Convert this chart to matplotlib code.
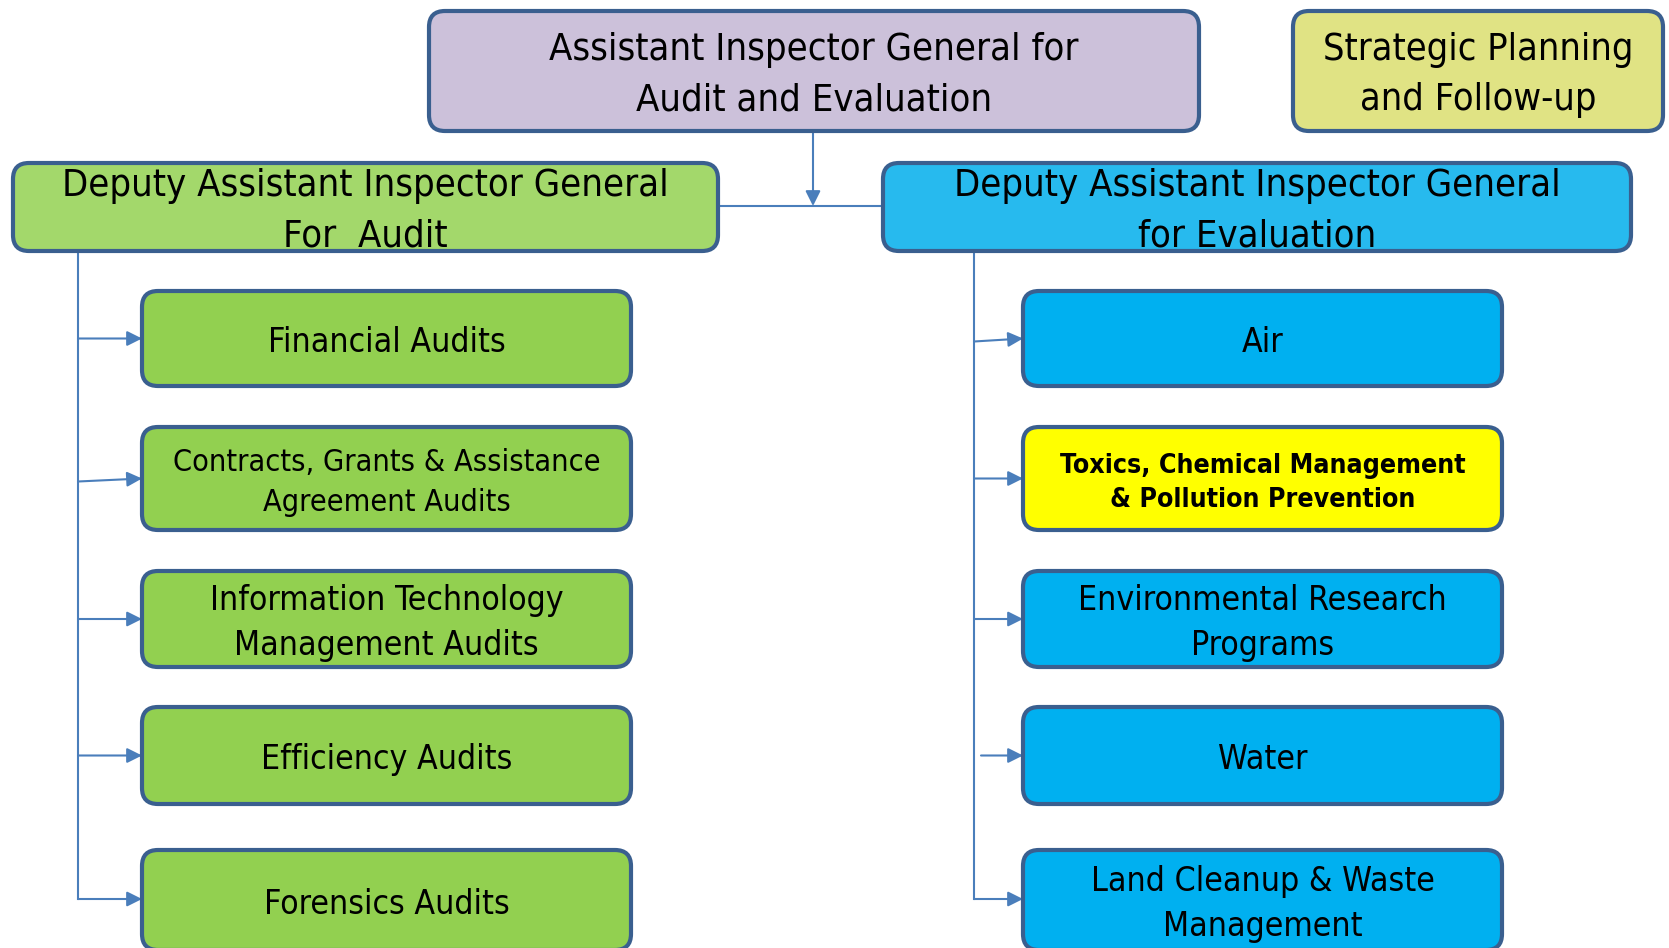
import matplotlib.pyplot as plt
from matplotlib.patches import FancyBboxPatch

# org chart content
top_label = "Assistant Inspector General for\nAudit and Evaluation"
side_label = "Strategic Planning\nand Follow-up"
deputy_labels = ["Deputy Assistant Inspector General\nFor  Audit",
                 "Deputy Assistant Inspector General\nfor Evaluation"]
audit_units = ["Financial Audits",
               "Contracts, Grants & Assistance\nAgreement Audits",
               "Information Technology\nManagement Audits",
               "Efficiency Audits",
               "Forensics Audits"]
eval_units = ["Air",
              "Toxics, Chemical Management\n& Pollution Prevention",
              "Environmental Research\nPrograms",
              "Water",
              "Land Cleanup & Waste\nManagement"]
highlight = "Toxics, Chemical Management\n& Pollution Prevention"

EDGE = "#3A5F8F"
LINE = "#4A7EBB"
FONT = ["DejaVu Sans"]

fig = plt.figure(figsize=(16.69, 9.48), dpi=100)
ax = fig.add_axes([0, 0, 1, 1])
ax.set_xlim(0, 1669)
ax.set_ylim(948, 0)
ax.axis("off")


def box(x0, y0, x1, y1, color, text, size, bold=False, ls=1.45, dy=4):
    p = FancyBboxPatch((x0, y0), x1 - x0, y1 - y0,
                       boxstyle="round,pad=0,rounding_size=16",
                       fc=color, ec=EDGE, lw=3, zorder=2)
    ax.add_patch(p)
    ax.text((x0 + x1) / 2, (y0 + y1) / 2 + dy, text, ha="center", va="center",
            fontsize=size, family=FONT, fontstretch="condensed",
            fontweight="bold" if bold else "normal",
            linespacing=ls, zorder=3)


def arrow(xa, ya, xb, yb):
    ax.annotate("", xy=(xb, yb), xytext=(xa, ya),
                arrowprops=dict(arrowstyle="-|>,head_length=0.9,head_width=0.45",
                                color=LINE, lw=1.5, shrinkA=0, shrinkB=0),
                zorder=1)


# connectors on top
ax.plot([718, 883], [206, 206], color=LINE, lw=1.5, zorder=1)
arrow(813, 131, 813, 206)

box(429, 11, 1199, 131, "#CCC1DA", top_label, 27.4, ls=1.5)
box(1293, 11, 1663, 131, "#E0E384", side_label, 27.2, ls=1.5)
box(13, 163, 718, 251, "#A3D86B", deputy_labels[0], 27.4, ls=1.5)
box(883, 163, 1631, 251, "#27BAEE", deputy_labels[1], 27.4, ls=1.5)

rows = [(291, 386), (427, 530), (571, 667), (707, 804), (850, 950)]
# small offsets of the arrow tails as drawn in the original
left_tail = [0, 3, 0, 0, 0]
right_tail = [3, 0, 0, 0, 0]
right_gap = [0, 0, 0, 7, 0]
# the long contracts label was shrunk to fit in the original
left_size = [24.2, 22.0, 24.2, 24.2, 24.2]

# left branch
ax.plot([78, 78], [251, 899], color=LINE, lw=1.5, zorder=1)
for (y0, y1), lab, t, fs in zip(rows, audit_units, left_tail, left_size):
    yc = (y0 + y1) / 2
    if y1 > 948:
        yc = 899
    arrow(78, yc + t, 142, yc)
    box(142, y0, 631, y1, "#92D050", lab, fs, ls=1.5 if fs < 24 else 1.45)

# right branch
ax.plot([974, 974], [251, 899], color=LINE, lw=1.5, zorder=1)
for (y0, y1), lab, t, g in zip(rows, eval_units, right_tail, right_gap):
    yc = (y0 + y1) / 2
    if y1 > 948:
        yc = 899
    arrow(974 + g, yc + t, 1023, yc)
    if lab == highlight:
        box(1023, y0, 1502, y1, "#FFFF00", lab, 19.2, bold=True, ls=1.4)
    else:
        box(1023, y0, 1502, y1, "#00B0F0", lab, 24.2)

fig.savefig("out.png", dpi=100)
